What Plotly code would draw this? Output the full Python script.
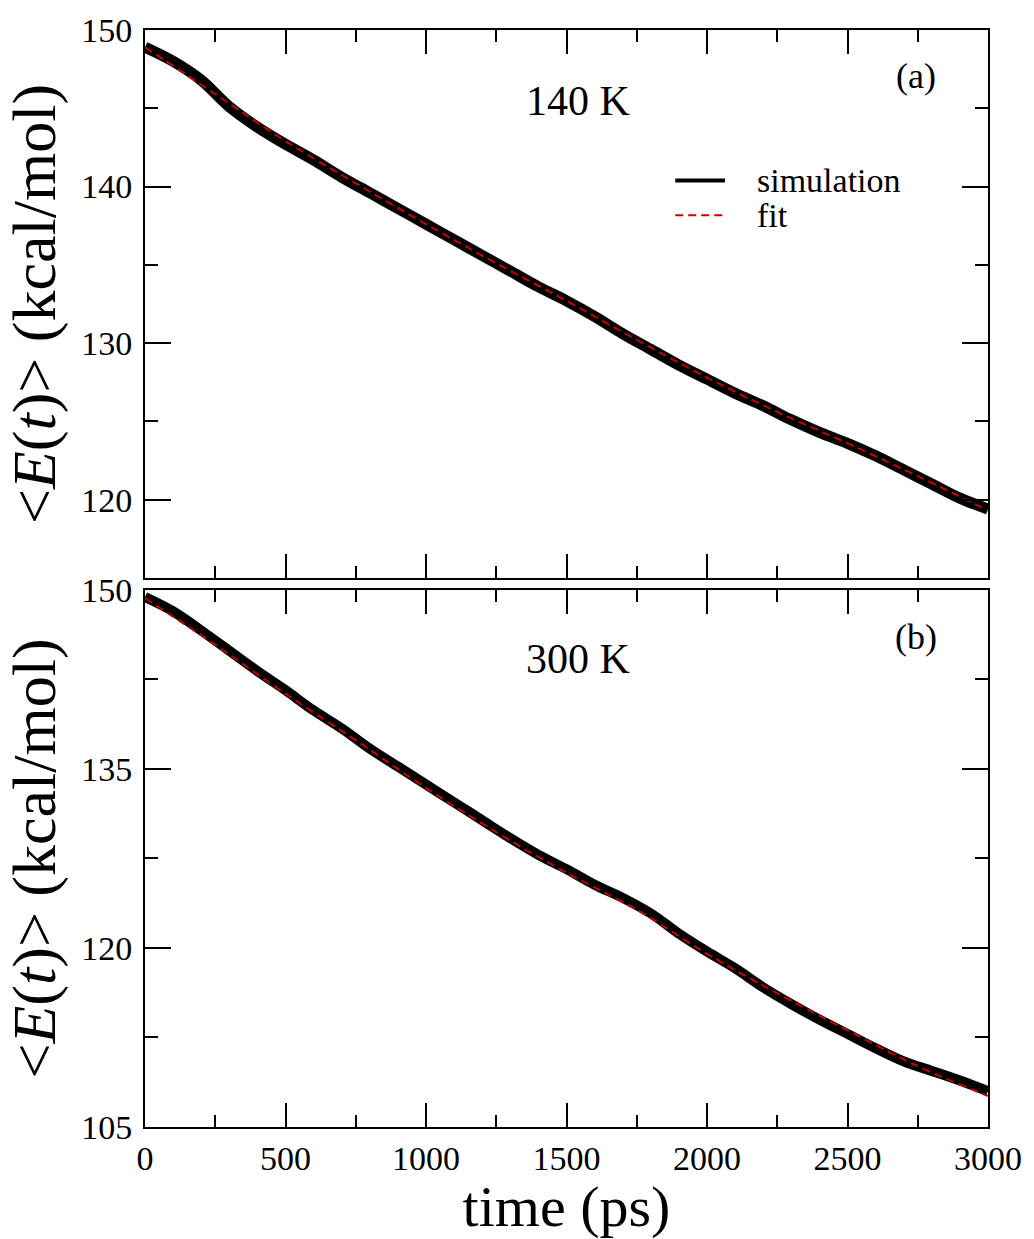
import plotly.graph_objects as go

# ---- data ----
t_sim = list(range(0, 3001, 100))
e140_sim = [148.9, 148.0, 146.8, 145.1, 143.8, 142.7, 141.7, 140.6, 139.6, 138.6,
            137.6, 136.6, 135.6, 134.6, 133.6, 132.7, 131.7, 130.6, 129.6, 128.6,
            127.7, 126.8, 126.0, 125.1, 124.3, 123.6, 122.8, 121.9, 121.0, 120.1, 119.4]
e300_sim = [149.4, 148.2, 146.6, 144.9, 143.2, 141.6, 139.9, 138.4, 136.7, 135.2,
            133.7, 132.2, 130.7, 129.2, 127.8, 126.6, 125.3, 124.2, 122.9, 121.2,
            119.7, 118.3, 116.7, 115.3, 114.0, 112.8, 111.6, 110.5, 109.7, 108.9, 108.0]
t_fit = list(range(0, 3001, 250))
e140_fit = [148.9, 145.9, 142.9, 140.2, 137.6, 135.1, 132.7, 130.2, 127.8, 125.6, 123.6, 121.5, 119.3]
e300_fit = [149.3, 145.4, 141.3, 137.4, 133.4, 129.7, 126.3, 123.2, 119.5, 116.2, 113.1, 110.1, 107.6]

FONT = "Liberation Serif"
RED = "rgb(200,0,0)"

fig = go.Figure()
fig.add_trace(go.Scatter(x=t_sim, y=e140_sim, mode="lines", name="simulation",
                         line=dict(color="black", width=11, shape="spline"),
                         xaxis="x", yaxis="y", showlegend=False))
fig.add_trace(go.Scatter(x=t_fit, y=e140_fit, mode="lines", name="fit",
                         line=dict(color=RED, width=2, dash="8px,5px", shape="spline"),
                         xaxis="x", yaxis="y", showlegend=False))
fig.add_trace(go.Scatter(x=t_sim, y=e300_sim, mode="lines", name="simulation",
                         line=dict(color="black", width=10, shape="spline"),
                         xaxis="x2", yaxis="y2", showlegend=False))
fig.add_trace(go.Scatter(x=t_fit, y=e300_fit, mode="lines", name="fit",
                         line=dict(color=RED, width=2, dash="8px,5px", shape="spline"),
                         xaxis="x2", yaxis="y2", showlegend=False))

axis_common = dict(showline=True, linecolor="black", linewidth=2, mirror="ticks",
                   ticks="inside", tickcolor="black", tickwidth=2, showgrid=False,
                   zeroline=False, tickfont=dict(family=FONT, size=34, color="black"))

ytitle = dict(text="&lt;<i>E</i>(<i>t</i>)&gt; (kcal/mol)",
              font=dict(family=FONT, size=62, color="black"), standoff=12)

fig.update_layout(
    width=1034, height=1239,
    margin=dict(l=145, r=39, t=29, b=109),
    paper_bgcolor="white", plot_bgcolor="white",
    xaxis=dict(range=[0, 3000], dtick=500, tick0=0, ticklen=24, showticklabels=False,
               minor=dict(dtick=250, ticklen=12, ticks="inside", tickcolor="black", tickwidth=2),
               anchor="y", **axis_common),
    yaxis=dict(range=[115, 150], tickvals=[120, 130, 140, 150], ticklen=26,
               ticklabelstandoff=4,
               minor=dict(dtick=5, tick0=0, ticklen=13, ticks="inside", tickcolor="black", tickwidth=2),
               domain=[0.5005, 1.0], anchor="x", title=ytitle, **axis_common),
    xaxis2=dict(range=[0, 3000], dtick=500, tick0=0, ticklen=24,
                minor=dict(dtick=250, ticklen=12, ticks="inside", tickcolor="black", tickwidth=2),
                anchor="y2",
                title=dict(text="time (ps)", font=dict(family=FONT, size=58, color="black"), standoff=10),
                **axis_common),
    yaxis2=dict(range=[105, 150], dtick=15, tick0=0, ticklen=26,
                ticklabelstandoff=4,
                minor=dict(dtick=7.5, tick0=0, ticklen=13, ticks="inside", tickcolor="black", tickwidth=2),
                domain=[0.0, 0.4896], anchor="x2", title=ytitle, **axis_common),
)

ann_font = dict(family=FONT, color="black")
annotations = [
    dict(text="140 K", xref="x domain", yref="y domain", x=0.514, y=0.871,
         font=dict(size=42, **ann_font)),
    dict(text="(a)", xref="x domain", yref="y domain", x=0.914, y=0.916,
         font=dict(size=36, **ann_font)),
    dict(text="300 K", xref="x2 domain", yref="y2 domain", x=0.514, y=0.872,
         font=dict(size=42, **ann_font)),
    dict(text="(b)", xref="x2 domain", yref="y2 domain", x=0.914, y=0.913,
         font=dict(size=36, **ann_font)),
    dict(text="simulation", xref="x domain", yref="y domain", x=0.7235, y=0.7255,
         xanchor="left", font=dict(size=34, **ann_font)),
    dict(text="fit", xref="x domain", yref="y domain", x=0.7235, y=0.662,
         xanchor="left", font=dict(size=34, **ann_font)),
]
for a in annotations:
    a["showarrow"] = False
    a["yanchor"] = "middle"
    a.setdefault("xanchor", "center")
fig.update_layout(annotations=annotations)

fig.add_shape(type="line", xref="x domain", yref="y domain", x0=0.629, x1=0.688,
              y0=0.7255, y1=0.7255, line=dict(color="black", width=4))
fig.add_shape(type="line", xref="x domain", yref="y domain", x0=0.629, x1=0.688,
              y0=0.662, y1=0.662, line=dict(color=RED, width=2, dash="8px,5px"))

fig.write_html("out.html")
